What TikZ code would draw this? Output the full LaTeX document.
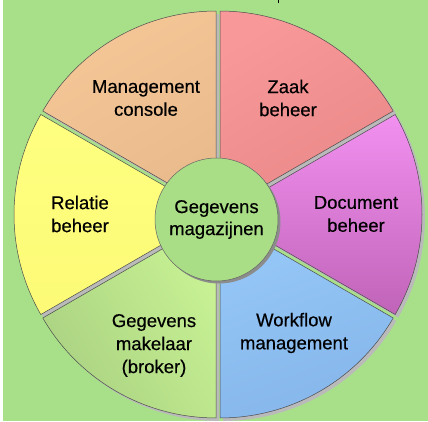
\documentclass[tikz,border=0pt]{standalone}
\usepackage{fontspec}
\setmainfont{Liberation Sans}
\usepackage{tikz}
\usetikzlibrary{positioning}
\definecolor{bgcolor}{RGB}{168, 224, 138}
\definecolor{shadowcolor}{RGB}{186, 186, 186}
\definecolor{hubshadow}{RGB}{140, 140, 140}
\definecolor{hubcolor}{RGB}{170, 222, 134}
\definecolor{zaaktop}{RGB}{248, 152, 152}
\definecolor{zaakbot}{RGB}{234, 136, 136}
\definecolor{consoletop}{RGB}{245, 198, 150}
\definecolor{consolebot}{RGB}{233, 186, 140}
\definecolor{relatietop}{RGB}{255, 255, 128}
\definecolor{relatiebot}{RGB}{252, 250, 118}
\definecolor{brokertop}{RGB}{170, 210, 130}
\definecolor{brokerbot}{RGB}{200, 242, 148}
\definecolor{workflowtop}{RGB}{150, 200, 248}
\definecolor{workflowbot}{RGB}{134, 182, 234}
\definecolor{documenttop}{RGB}{242, 144, 240}
\definecolor{documentbot}{RGB}{192, 100, 184}
\tikzstyle{sectorshadow} = [fill=shadowcolor]
\tikzstyle{sector} = [draw=black!70, line width=0.5pt]
\tikzstyle{sectortext} = [align=center, text=black, font=\fontsize{18.5}{23}\selectfont\addfontfeature{FakeBold=0.4}]
\tikzstyle{hub} = [circle, minimum size=123pt, inner sep=0pt, fill=hubcolor, draw=black!60, line width=0.5pt, align=center, font=\fontsize{18.5}{22}\selectfont\addfontfeature{FakeBold=0.4}]

\begin{document}
\begin{tikzpicture}[x=1pt, y=1pt]

% Achtergrond
\fill[white] (0,0) rectangle (428,421);
\fill[bgcolor] (3,0) rectangle (428,421);
\useasboundingbox (0,0) rectangle (428,421);
\draw[line width=1.2pt] (278.7,417.5) -- (278.7,421);

% Schaduw van de segmenten
\begin{scope}[shift={(221,203.5)}]
\foreach \a/\b in {30/90, 90/150, 150/210, 210/270, 270/330, -30/30}{
  \pgfmathsetmacro{\m}{(\a+\b)/2}
  \fill[sectorshadow, shift={(\m:4)}] (0,0) -- (\a:200) arc[start angle=\a, end angle=\b, radius=200] -- cycle;
}
\end{scope}

% Segmenten
\begin{scope}[shift={(218,206.5)}]
\foreach \a/\b/\ct/\cb/\sa in {30/90/zaaktop/zaakbot/30, 90/150/consoletop/consolebot/30, 150/210/relatietop/relatiebot/0, 210/270/brokertop/brokerbot/120, 270/330/workflowtop/workflowbot/20, -30/30/documenttop/documentbot/0}{
  \pgfmathsetmacro{\m}{(\a+\b)/2}
  \draw[sector, top color=\ct, bottom color=\cb, shading angle=\sa, shift={(\m:4)}] (0,0) -- (\a:200) arc[start angle=\a, end angle=\b, radius=200] -- cycle;
}
\end{scope}

% Midden
\fill[hubshadow] (219,199) circle (61.5);
\node (magazijn) [hub] at (216.5,201.5) {Gegevens\\magazijnen};

% Teksten
\node (zaak) [sectortext] at (288,323) {Zaak\\beheer};
\node (console) [sectortext] at (146,323) {Management\\console};
\node (relatie) [sectortext] at (80,207) {Relatie\\beheer};
\node (document) [sectortext] at (356,207) {Document\\beheer};
\node (broker) [sectortext] at (154,75.5) {Gegevens\\makelaar\\(broker)};
\node (workflow) [sectortext] at (294,88) {Workflow\\management};

\end{tikzpicture}
\end{document}
